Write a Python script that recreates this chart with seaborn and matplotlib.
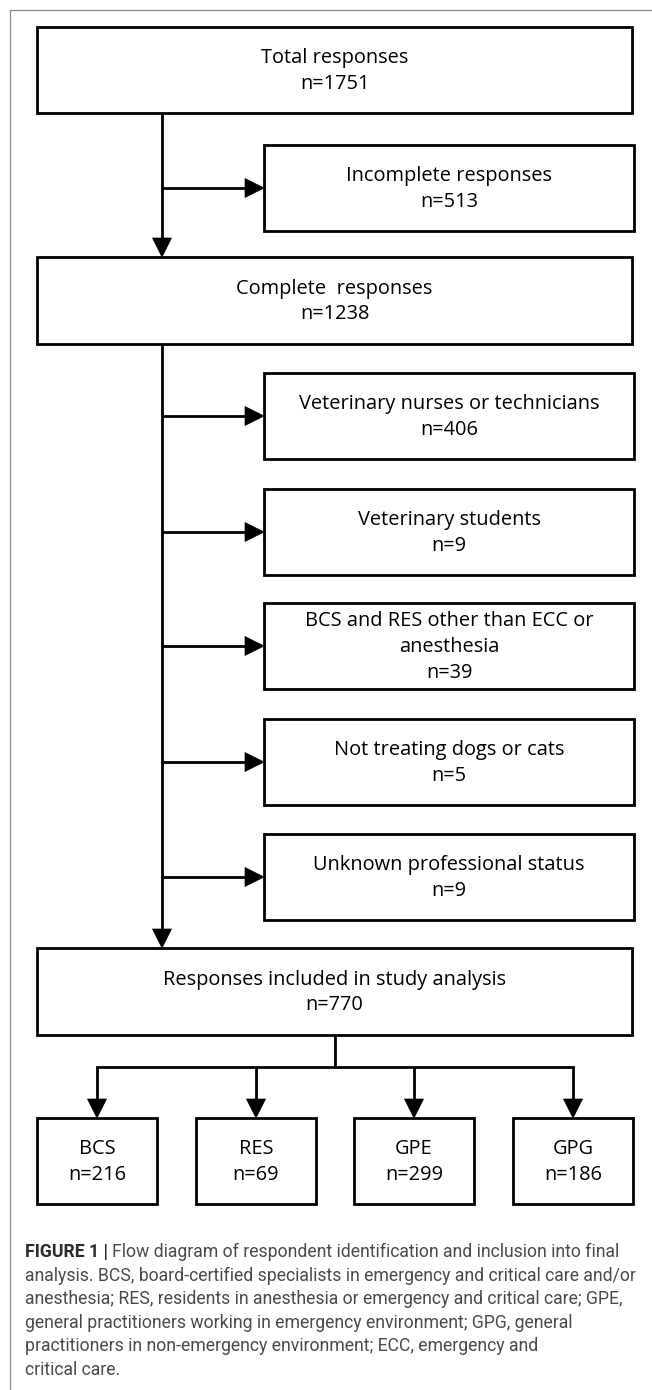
import numpy as np
import matplotlib
matplotlib.use('Agg')
import matplotlib.pyplot as plt
from matplotlib.patches import Rectangle, Polygon
import seaborn as sns

sns.set_theme(style='white')
plt.rcParams['font.family'] = ['Open Sans', 'DejaVu Sans']

# Data
main_labels = ['Total responses', 'Complete  responses', 'Responses included in study analysis']
main_n = [1751, 1238, 770]
excl_labels = ['Incomplete responses',
               'Veterinary nurses or technicians',
               'Veterinary students',
               'BCS and RES other than ECC or\nanesthesia',
               'Not treating dogs or cats',
               'Unknown professional status']
excl_n = [513, 406, 9, 39, 5, 9]
group_labels = ['BCS', 'RES', 'GPE', 'GPG']
group_n = [216, 69, 299, 186]

caption_bold = 'FIGURE 1 | '
caption_lines = ['Flow diagram of respondent identification and inclusion into final',
                 'analysis. BCS, board-certified specialists in emergency and critical care and/or',
                 'anesthesia; RES, residents in anesthesia or emergency and critical care; GPE,',
                 'general practitioners working in emergency environment; GPG, general',
                 'practitioners in non-emergency environment; ECC, emergency and',
                 'critical care.']

# Layout (pixel units, y down)
W, H = 652, 1390
main_x = (37, 632)
main_y = [(27, 113), (257, 344), (948, 1035)]
side_x = (264, 634)
side_top = [145, 373, 489, 603, 719, 834]
box_h = 86
trunk_x = 162
group_x0 = [37, 196, 354, 513]
group_w = 120
group_y = (1118, 1204)
branch_y = 1067
LW = 2.0
FS = 14.4

fig = plt.figure(figsize=(W / 100, H / 100), dpi=100)
ax = fig.add_axes([0, 0, 1, 1])
ax.set_xlim(0, W)
ax.set_ylim(H, 0)
ax.axis('off')


def box(x0, x1, y0, y1, text):
    ax.add_patch(Rectangle((x0, y0), x1 - x0, y1 - y0, fill=False,
                           edgecolor='black', lw=LW, joinstyle='miter'))
    ax.text((x0 + x1) / 2, (y0 + y1) / 2 + 1, text, ha='center', va='center',
            multialignment='center', fontsize=FS, linespacing=1.38, color='black')


def arrow(x0, y0, x1, y1, head=19, half=9.5):
    d = np.array([x1 - x0, y1 - y0], dtype=float)
    d /= np.hypot(*d)
    n = np.array([-d[1], d[0]])
    tip = np.array([x1, y1], dtype=float)
    base = tip - d * head
    ax.plot([x0, base[0]], [y0, base[1]], color='black', lw=LW, solid_capstyle='butt')
    ax.add_patch(Polygon([tip, base + n * half, base - n * half], closed=True,
                         facecolor='black', edgecolor='black', lw=0.5))


# outer frame
ax.plot([10, 10], [H, 10], color='#8a8a8a', lw=0.9)
ax.plot([10, W], [10, 10], color='#8a8a8a', lw=0.9)

# main boxes
for (y0, y1), lab, n in zip(main_y, main_labels, main_n):
    box(main_x[0], main_x[1], y0, y1, f'{lab}\nn={n}')

# exclusion boxes
for top, lab, n in zip(side_top, excl_labels, excl_n):
    box(side_x[0], side_x[1], top, top + box_h, f'{lab}\nn={n}')
    arrow(trunk_x, top + box_h / 2, side_x[0], top + box_h / 2)

# trunk
arrow(trunk_x, main_y[0][1], trunk_x, main_y[1][0])
arrow(trunk_x, main_y[1][1], trunk_x, main_y[2][0])

# split into groups
cx = [x + group_w / 2 for x in group_x0]
mid = (main_x[0] + main_x[1]) / 2
ax.plot([mid, mid], [main_y[2][1], branch_y], color='black', lw=LW, solid_capstyle='butt')
ax.plot([cx[0], cx[-1]], [branch_y, branch_y], color='black', lw=LW,
        solid_capstyle='projecting')
for x0, c, lab, n in zip(group_x0, cx, group_labels, group_n):
    arrow(c, branch_y, c, group_y[0])
    box(x0, x0 + group_w, group_y[0], group_y[1], f'{lab}\nn={n}')

# caption
cap_font = ['Roboto', 'DejaVu Sans']
cap_fs = 12.7
cap_y0 = 1252
cap_dy = 23.6
fig.canvas.draw()
r = fig.canvas.get_renderer()
tb = ax.text(25, cap_y0, caption_bold, ha='left', va='center', fontsize=cap_fs,
             fontweight='bold', family=cap_font, color='#2b2b2b')
bb = tb.get_window_extent(renderer=r)
x_rest = ax.transData.inverted().transform((bb.x1, 0))[0]
for i, line in enumerate(caption_lines):
    ax.text(x_rest if i == 0 else 25, cap_y0 + i * cap_dy, line, ha='left', va='center',
            fontsize=cap_fs, family=cap_font, color='#4a4a4a')

plt.savefig('out.png', dpi=100)
